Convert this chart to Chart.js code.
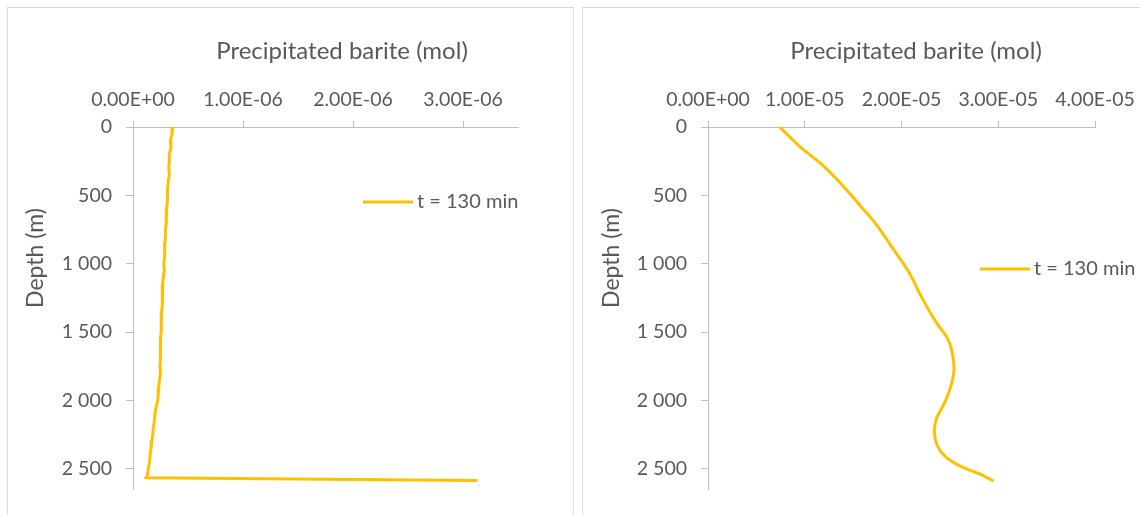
<!DOCTYPE html>
<html>
<head>
<meta charset="utf-8">
<script src="https://cdn.jsdelivr.net/npm/chart.js@4.4.1/dist/chart.umd.min.js"></script>
<style>
  html, body { margin: 0; padding: 0; background: #fff; width: 1140px; height: 515px; overflow: hidden; }
  .panel { position: absolute; border: 1px solid #d9d9d9; background: #fff; overflow: hidden; }
  #panelA { left: 7px; top: 7px; width: 565px; height: 520px; }
  #panelB { left: 582px; top: 7px; width: 600px; height: 520px; }
  canvas { display: block; }
</style>
</head>
<body>
<div class="panel" id="panelA"><canvas id="chartA" width="565" height="507"></canvas></div>
<div class="panel" id="panelB"><canvas id="chartB" width="600" height="507"></canvas></div>
<script>
// Depth profile of precipitated barite, t = 130 min (left: ×1E-06 mol, right: ×1E-05 mol)
const seriesLabel = 't = 130 min';
const xTitle = 'Precipitated barite (mol)';
const yTitle = 'Depth (m)';

const depthA = [0, 50, 100, 150, 200, 250, 300, 350, 400, 450, 500, 550, 600, 650, 700, 750, 800, 850, 900, 950,
  1000, 1050, 1100, 1150, 1200, 1250, 1300, 1350, 1400, 1450, 1500, 1550, 1600, 1650, 1700, 1750, 1800, 1850, 1900, 1950,
  2000, 2050, 2100, 2150, 2200, 2250, 2300, 2350, 2400, 2450, 2500, 2550, 2566, 2585];
const bariteA = [0.36, 0.355, 0.34, 0.345, 0.33, 0.33, 0.325, 0.33, 0.32, 0.315, 0.31, 0.315, 0.305, 0.30, 0.305, 0.295, 0.295, 0.29, 0.29, 0.285,
  0.28, 0.285, 0.275, 0.27, 0.27, 0.265, 0.265, 0.26, 0.26, 0.255, 0.255, 0.25, 0.25, 0.25, 0.25, 0.245, 0.25, 0.24, 0.235, 0.23,
  0.225, 0.21, 0.20, 0.195, 0.185, 0.18, 0.17, 0.165, 0.155, 0.15, 0.14, 0.13, 0.115, 3.12].map(v => v * 1e-6);

const depthB = [0, 143, 302, 459, 581, 714, 909, 1066, 1261, 1431, 1552, 1674, 1795, 1941, 2038, 2136, 2233, 2330, 2415, 2488, 2536, 2585];
const bariteB = [0.74, 0.95, 1.22, 1.43, 1.58, 1.74, 1.93, 2.08, 2.22, 2.36, 2.48, 2.53, 2.54, 2.49, 2.43, 2.36, 2.34, 2.37, 2.46, 2.63, 2.80, 2.94].map(v => v * 1e-5);

// Axis ranges and tick positions
const xMaxA = 3.5e-6;
const xTickValuesA = [0, 1e-6, 2e-6, 3e-6];
const xMaxB = 4e-5;
const xTickValuesB = [0, 1e-5, 2e-5, 3e-5, 4e-5];
const yMax = 2650;
const yTickValues = [0, 500, 1000, 1500, 2000, 2500];

const GOLD = '#ffc000';
const TEXT = '#595959';
const AXIS = '#bfbfbf';
const FONT = 'Lato';

function sci(v) {
  if (Math.abs(v) < 1e-15) return '0.00E+00';
  const [m, e] = v.toExponential(2).split('e');
  const n = parseInt(e, 10);
  return m + 'E' + (n < 0 ? '-' : '+') + String(Math.abs(n)).padStart(2, '0');
}
function grouped(v) {
  return String(Math.round(v)).replace(/\B(?=(\d{3})+(?!\d))/g, ' ');
}

// Axis titles and the legend entry, placed like the spreadsheet layout
const panelText = {
  id: 'panelText',
  afterDraw(chart, args, opts) {
    const ctx = chart.ctx;
    ctx.save();
    ctx.fillStyle = TEXT;
    ctx.textBaseline = 'middle';
    ctx.textAlign = 'center';
    ctx.font = `${opts.titleSize}px ${FONT}`;
    ctx.fillText(xTitle, opts.xTitle[0], opts.xTitle[1]);
    ctx.font = `${opts.yTitleSize}px ${FONT}`;
    ctx.translate(opts.yTitle[0], opts.yTitle[1]);
    ctx.rotate(-Math.PI / 2);
    ctx.fillText(yTitle, 0, 0);
    ctx.restore();

    const ds = chart.data.datasets[0];
    const [lx, ly] = opts.legend;
    ctx.save();
    ctx.strokeStyle = ds.borderColor;
    ctx.lineWidth = ds.borderWidth;
    ctx.beginPath();
    ctx.moveTo(lx, ly);
    ctx.lineTo(lx + 50, ly);
    ctx.stroke();
    ctx.fillStyle = TEXT;
    ctx.font = `${opts.legendSize}px ${FONT}`;
    ctx.textAlign = 'left';
    ctx.textBaseline = 'middle';
    ctx.fillText(ds.label, lx + 54, ly);
    ctx.restore();
  }
};

function makeChart(id, depth, barite, xMax, xTickValues, tension, padRight, text) {
  return new Chart(document.getElementById(id), {
    type: 'scatter',
    data: {
      datasets: [{
        label: seriesLabel,
        data: depth.map((d, i) => ({ x: barite[i], y: d })),
        showLine: true,
        borderColor: GOLD,
        backgroundColor: GOLD,
        borderWidth: 3,
        pointRadius: 0,
        tension: tension,
        borderCapStyle: 'round',
        borderJoinStyle: 'round'
      }]
    },
    options: {
      responsive: false,
      animation: false,
      layout: { padding: { left: 0, top: 0, right: padRight, bottom: 25 } },
      plugins: { legend: { display: false }, tooltip: { enabled: false }, panelText: text },
      scales: {
        x: {
          type: 'linear', position: 'top', min: 0, max: xMax,
          afterBuildTicks: s => { s.ticks = xTickValues.map(v => ({ value: v })); },
          afterFit: s => { s.height = 119; },
          border: { display: true, color: AXIS, width: 1 },
          grid: { drawOnChartArea: false, drawTicks: true, tickLength: 6, color: AXIS },
          ticks: { autoSkip: false, maxRotation: 0,
                   padding: 10, color: TEXT, font: { family: FONT, size: 19.5 }, callback: v => sci(v) }
        },
        y: {
          type: 'linear', reverse: true, min: 0, max: yMax,
          afterBuildTicks: s => { s.ticks = yTickValues.map(v => ({ value: v })); },
          afterFit: s => { s.width = 125; },
          border: { display: true, color: AXIS, width: 1 },
          grid: { drawOnChartArea: false, drawTicks: true, tickLength: 7, color: AXIS },
          ticks: { autoSkip: false,
                   padding: 14, color: TEXT, font: { family: FONT, size: 19.5 }, callback: v => grouped(v) }
        }
      }
    },
    plugins: [panelText]
  });
}

makeChart('chartA', depthA, bariteA, xMaxA, xTickValuesA, 0, 55,
  { titleSize: 24, yTitleSize: 23, legendSize: 20, xTitle: [334, 43], yTitle: [28, 250], legend: [355, 194] });
makeChart('chartB', depthB, bariteB, xMaxB, xTickValuesB, 0.4, 88,
  { titleSize: 24, yTitleSize: 23, legendSize: 20, xTitle: [333, 43], yTitle: [29, 250], legend: [397, 261] });
</script>
</body>
</html>
